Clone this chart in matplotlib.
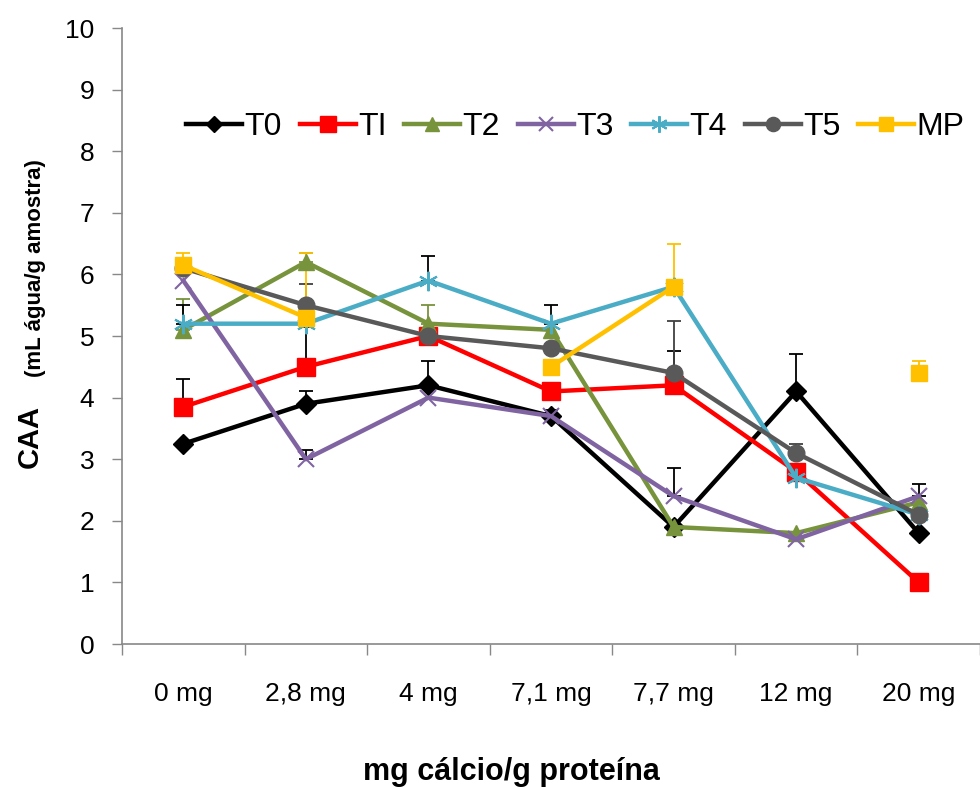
import matplotlib
matplotlib.use("Agg")
import matplotlib.pyplot as plt
from matplotlib.lines import Line2D
import numpy as np

plt.rcParams['font.family'] = ['Liberation Sans', 'DejaVu Sans']

# categories on the x axis
doses = ['0 mg', '2,8 mg', '4 mg', '7,1 mg', '7,7 mg', '12 mg', '20 mg']

# series values (CAA, mL agua/g amostra)
t0 = [3.25, 3.9, 4.2, 3.7, 1.9, 4.1, 1.8]
t1 = [3.85, 4.5, 5.0, 4.1, 4.2, 2.8, 1.0]
t2 = [5.1, 6.2, 5.2, 5.1, 1.9, 1.8, 2.3]
t3 = [5.9, 3.0, 4.0, 3.7, 2.4, 1.7, 2.4]
t4 = [5.2, 5.2, 5.9, 5.2, 5.8, 2.7, 2.1]
t5 = [6.1, 5.5, 5.0, 4.8, 4.4, 3.1, 2.1]
mp = [6.15, 5.3, np.nan, 4.5, 5.8, np.nan, 4.4]

# upper error bars (0 = none drawn)
t0_err = [0, 0.2, 0.4, 0.1, 0, 0.6, 0]
t1_err = [0.45, 0.65, 0, 0, 0.55, 0, 0]
t2_err = [0.5, 0.15, 0.3, 0, 0, 0, 0]
t3_err = [0, 0.15, 0, 0, 0.45, 0, 0.2]
t4_err = [0.3, 0, 0.4, 0.3, 0, 0, 0]
t5_err = [0, 0.35, 0, 0, 0.85, 0.15, 0]
mp_err = [0.2, 1.05, 0, 0, 0.7, 0, 0.2]

series = [
    ('T0', t0, t0_err, 'black', 'D', 10, 'black'),
    ('TI', t1, t1_err, '#FF0000', 's', 13, 'black'),
    ('T2', t2, t2_err, '#77933C', '^', 12, '#77933C'),
    ('T3', t3, t3_err, '#8064A2', 'x', 12, 'black'),
    ('T4', t4, t4_err, '#4BACC6', (6, 2, 0), 14, 'black'),
    ('T5', t5, t5_err, '#595959', 'o', 12, '#404040'),
    ('MP', mp, mp_err, '#FFC000', 's', 12, '#FFC000'),
]

fig = plt.figure(figsize=(9.8, 7.87), dpi=100)
ax = fig.add_axes([0.1245, 0.1817, 0.8755, 0.7827])

x = np.arange(len(doses))
handles = []
for name, vals, err, color, marker, ms, ecol in series:
    vals = np.array(vals, dtype=float)
    err = np.array(err, dtype=float)
    mew = 1.5 if marker in ('x', (6, 2, 0)) else 1
    # error bars first, only where there is one
    m = err > 0
    ax.errorbar(x[m], vals[m], yerr=[np.zeros(m.sum()), err[m]], fmt='none',
                ecolor=ecol, elinewidth=1.3, capsize=5, capthick=1.3, zorder=2)
    ax.plot(x, vals, color=color, lw=3.2, marker=marker, ms=ms,
            mfc=color, mec=color, mew=mew, zorder=3)
    handles.append(Line2D([], [], color=color, lw=3.2, marker=marker, ms=ms * 0.85,
                          mfc=color, mec=color, mew=mew, label=name))

ax.set_xlim(-0.5, 6.5)
ax.set_ylim(0, 10)
ax.set_yticks(range(0, 11))
ax.set_xticks(x)
ax.set_xticklabels(doses)
ax.set_xticks(np.arange(-0.5, 7, 1), minor=True)
ax.tick_params(axis='x', which='major', length=0, pad=27, labelsize=19)
ax.tick_params(axis='x', which='minor', length=8, color='#888888', width=1)
ax.tick_params(axis='y', length=7, color='#888888', width=1, labelsize=19, pad=13)

for s in ['top', 'right']:
    ax.spines[s].set_visible(False)
for s in ['left', 'bottom']:
    ax.spines[s].set_color('#888888')
    ax.spines[s].set_linewidth(1.2)

ax.legend(handles=handles, ncol=7, loc='center left', bbox_to_anchor=(0.06, 0.839),
          frameon=False, fontsize=23, handlelength=1.75, handletextpad=0.08,
          columnspacing=0.55, borderaxespad=0)

fig.text(0.030, 0.445, 'CAA', rotation=90, ha='center', va='center',
         fontsize=21, fontweight='bold')
fig.text(0.036, 0.66, '(mL água/g amostra)', rotation=90, ha='center', va='center',
         fontsize=16, fontweight='bold')
fig.text(0.522, 0.019, 'mg cálcio/g proteína', ha='center', va='center',
         fontsize=22, fontweight='bold')

fig.savefig('out.png', dpi=100)
